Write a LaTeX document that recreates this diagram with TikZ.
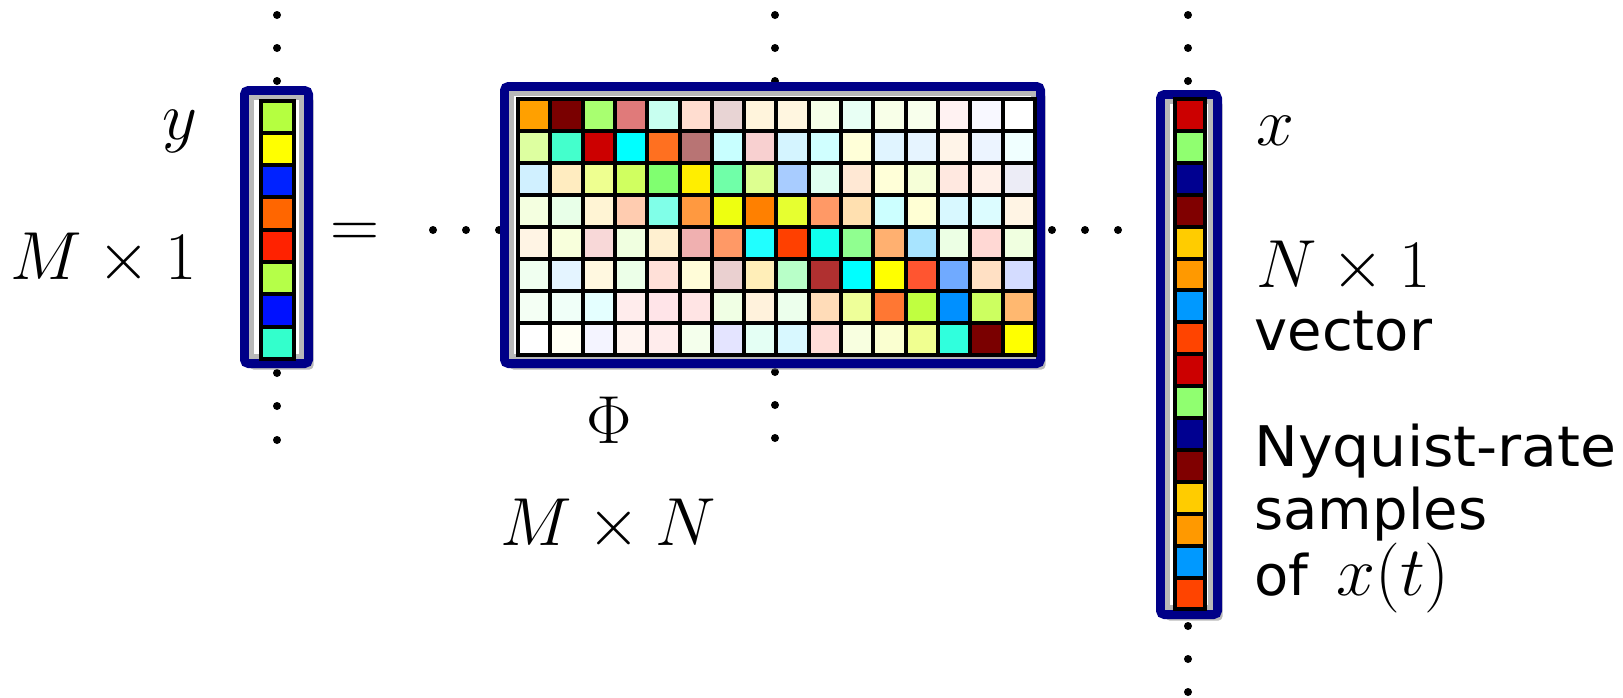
\RequirePackage{fix-cm}
\documentclass[tikz,border=0pt]{standalone}
\usepackage{fontspec}
\setsansfont{DejaVu Sans}
\usepackage{tikz}
\usetikzlibrary{shadows}
\definecolor{framenavy}{RGB}{0,0,136}
\tikzstyle{Frame}=[draw=framenavy, line width=4.5pt, rounded corners=2pt, fill=white, drop shadow={shadow xshift=2.5pt, shadow yshift=-3pt, fill=black!45, opacity=0.6}]
\tikzstyle{Bevel}=[draw=black!28, line width=2.5pt]
\tikzstyle{Cell}=[draw=black, line width=2pt]
\tikzstyle{Maths}=[inner sep=0pt, font=\fontsize{34}{40}\selectfont]
\tikzstyle{Words}=[inner sep=0pt, font=\sffamily\fontsize{28}{34}\selectfont]

\begin{document}
\begin{tikzpicture}[x=0.5pt, y=-0.5pt]
    \useasboundingbox (0,0) rectangle (1623,697);

    \foreach \px in {277,775,1188}
        \foreach \py in {15,48,81}
            \fill (\px,\py) circle (2pt);
    \foreach \py in {373,406,440} \fill (277,\py) circle (2pt);
    \foreach \py in {372,405,438} \fill (775,\py) circle (2pt);
    \foreach \py in {626,659,692} \fill (1188,\py) circle (2pt);
    \foreach \px in {433,466,499,1052,1085,1118} \fill (\px,230) circle (2pt);

    \draw[Frame] (244.5,90.5) rectangle (308.5,363.5);
    \draw[Bevel] (251.5,97.5) rectangle (301.5,356.5);
    \draw[Frame] (504.5,86.5) rectangle (1040.5,363.5);
    \draw[Bevel] (511.5,93.5) rectangle (1033.5,356.5);
    \draw[Frame] (1160.5,94.5) rectangle (1217.5,614.5);
    \draw[Bevel] (1167.5,101.5) rectangle (1210.5,607.5);

    \foreach \c [count=\i from 0] in {B5FF40,FFFF00,0022FF,FF6600,FF2200,B5FF48,0011FF,33FFCC} {
        \definecolor{cell}{HTML}{\c}
        \draw[Cell, fill=cell] (261,100.5+32.3*\i) rectangle ++(33,32.3);
    }

    \foreach \row [count=\i from 0] in {
        {FFA000,7A0000,A8FF70,E07A7A,C8FFF0,FFDDD0,E8D4D4,FFF4DC,FFF6E0,F6FFE8,E8FFF4,F8FFE8,F8FFEC,FFF2F2,F8F8FF,FFFFFF},
        {DDFFA0,44FFCC,CC0000,00FFFF,FF7020,B87474,C8FFFF,F8D0D0,D4F4FF,D0FFFF,FFFFD8,E0F4FF,E6F4FF,FFF4E8,ECF4FF,F0FFFF},
        {D0F0FF,FFECC0,EEFF90,D0FF60,80FF70,FFEE00,70FFA8,DDFF90,A8CCFF,E0FFF0,FFE8D4,FFFFD8,F6FFD8,FFE8E0,FFF0E8,ECECF6},
        {F4FFE0,E8FFE8,FFF4D4,FFCCB0,80FFE8,FF9940,EEFF10,FF8000,E6FF30,FF9966,FFE0B0,CCFFFF,FFFFD4,D8F8FF,DCFCFF,FFF4E4},
        {FFF4E4,F8FFDC,F8D8D8,F0FFE0,FFF0D0,F0B0B0,FF9966,20FFFF,FF4000,10FFEE,90FF90,FFB070,A8E4FF,ECFFE4,FFD8D4,F0FFE0},
        {F0FFF0,E4F4FF,FFF8E0,ECFFE8,FFE0D8,FFFCD8,EAD0D0,FFEEB8,B8FFC8,B03030,00FFFF,FFFF00,FF5530,70AAFF,FFE0C4,D4DCFF},
        {F4FFF4,F0FFF8,E4FFFF,FFECEC,FFE4E8,FFE4E4,F0FFE4,FFF2DC,ECFFEC,FFDCB8,EEFF99,FF7733,C0FF40,0090FF,CCFF60,FFB870},
        {FFFFFF,FFFFF4,F4F4FF,FFF4F0,FFECEC,F4FFEC,E4E4FF,E4FFF4,D8F8FF,FFDDD8,F8FFE0,FAFFD0,F0FF90,30FFDD,7A0000,FFFF00}} {
        \foreach \c [count=\j from 0] in \row {
            \definecolor{cell}{HTML}{\c}
            \draw[Cell, fill=cell] (518+32.3*\j,99+32*\i) rectangle ++(32.3,32);
        }
    }

    \foreach \c [count=\i from 0] in {CC0000,90FF70,000090,800000,FFCC00,FF9900,0099FF,FF4400,CC0000,90FF70,000090,800000,FFCC00,FF9900,0099FF,FF4400} {
        \definecolor{cell}{HTML}{\c}
        \draw[Cell, fill=cell] (1175,99+31.9*\i) rectangle ++(30,31.9);
    }

    \path (180,139) node[Maths, anchor=base] (ylabel) {$y$}
    (197,279) node[Maths, anchor=base east] (ydim) {$M\times 1$}
    (355,247) node[Maths, anchor=base] (equals) {$=$}
    (609,443) node[Maths, anchor=base] (philabel) {$\Phi$}
    (608,545) node[Maths, anchor=base] (phidim) {$M\times N$}
    (1256,145) node[Maths, anchor=base west] (xlabel) {$x$}
    (1256,287) node[Maths, anchor=base west] (xdim) {$N\times 1$};
    \path (1254,350) node[Words, anchor=base west] (xkind) {vector}
    (1254,466) node[Words, anchor=base west] (xnyquist) {\scalebox{1.045}[1]{Nyquist-rate}}
    (1254,529) node[Words, anchor=base west] (xsamples) {samples}
    (1254,595) node[Words, anchor=base west] (xof) {of\enspace\fontsize{35}{40}\selectfont$x(t)$};
\end{tikzpicture}
\end{document}
